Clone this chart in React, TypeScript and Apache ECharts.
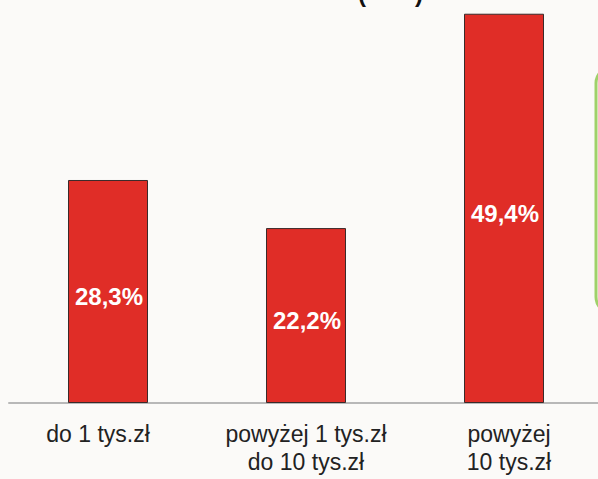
import React, { useEffect, useRef } from "react";
import * as echarts from "echarts";

const categories = ["do 1 tys.zł", "powyżej 1 tys.zł\ndo 10 tys.zł", "powyżej\n10 tys.zł"];
const values = [28.3, 22.2, 49.4];
const labelShift = [-10, 0, 5];

export default function App() {
  const ref = useRef<HTMLDivElement>(null);
  useEffect(() => {
    const chart = echarts.init(ref.current!, null, { renderer: "svg" });
    chart.setOption({
      animation: false,
      backgroundColor: "#fbfaf8",
      grid: { left: 9, top: 9, width: 594, height: 394, containLabel: false },
      xAxis: {
        type: "category",
        data: categories.map((c, i) => ({
          value: c,
          textStyle: {
            padding: labelShift[i] < 0 ? [0, -2 * labelShift[i], 0, 0] : [0, 0, 0, 2 * labelShift[i]],
          },
        })),
        axisLine: { lineStyle: { color: "#b8b8b8", width: 2 } },
        axisTick: { show: false },
        axisLabel: {
          color: "#222",
          fontFamily: "Liberation Sans, Arial, sans-serif",
          fontSize: 23,
          lineHeight: 28,
          margin: 17,
          interval: 0,
        },
      },
      yAxis: {
        type: "value",
        min: 0,
        max: 50,
        show: false,
        splitLine: { show: false },
      },
      series: [
        {
          type: "bar",
          data: values,
          barWidth: 80,
          itemStyle: { color: "#e02d27", borderColor: "#3a2a2a", borderWidth: 1 },
          label: {
            show: true,
            position: "inside",
            offset: [1, 5],
            formatter: (p: any) => String(p.value).replace(".", ",") + "%",
            color: "#fff",
            fontWeight: "bold",
            fontSize: 24,
            fontFamily: "Liberation Sans, Arial, sans-serif",
          },
        },
      ],
      graphic: [
        {
          type: "rect",
          shape: { x: 596, y: 67, width: 60, height: 246, r: 16 },
          style: { fill: "none", stroke: "#9fd16a", lineWidth: 3 },
          silent: true,
        },
        {
          type: "text",
          x: 358,
          y: -19,
          style: {
            text: "(",
            fill: "#111",
            font: "bold 24px Liberation Sans, Arial, sans-serif",
          },
        },
        {
          type: "text",
          x: 415,
          y: -19,
          style: {
            text: ")",
            fill: "#111",
            font: "bold 24px Liberation Sans, Arial, sans-serif",
          },
        },
      ],
    });
    return () => chart.dispose();
  }, []);
  return (
    <div
      ref={ref}
      style={{ position: "fixed", left: 0, top: 0, width: 612, height: 479 }}
    />
  );
}
